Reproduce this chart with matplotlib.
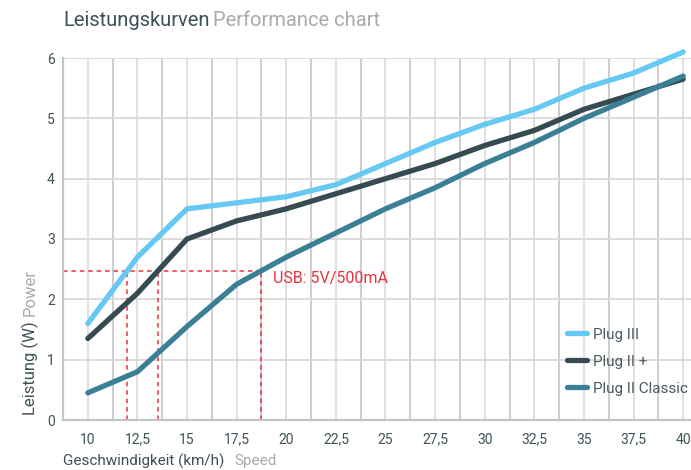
#!/usr/bin/env python3
# -*- coding: utf-8 -*-

import numpy as np
import matplotlib
matplotlib.use('Agg')
import matplotlib.pyplot as plt

plt.rcParams['font.family'] = ['Roboto', 'DejaVu Sans']

# speed in km/h
speed = [10, 12.5, 15, 17.5, 20, 22.5, 25, 27.5, 30, 32.5, 35, 37.5, 40]
# power in W
plug_3 = [1.6, 2.7, 3.5, 3.6, 3.7, 3.9, 4.25, 4.6, 4.9, 5.15, 5.5, 5.75, 6.1]
plug_2plus = [1.35, 2.1, 3.0, 3.3, 3.5, 3.75, 4.0, 4.25, 4.55, 4.8, 5.15, 5.4, 5.65]
plug_2classic = [0.45, 0.8, 1.55, 2.25, 2.7, 3.1, 3.5, 3.85, 4.25, 4.6, 5.0, 5.35, 5.7]
names = ['Plug III', 'Plug II +', 'Plug II Classic']
usb_power = 2.47
usb_label = 'USB: 5V/500mA'
xticks = speed
xticklabels = ['10', '12,5', '15', '17,5', '20', '22,5', '25', '27,5', '30',
               '32,5', '35', '37,5', '40']
yticks = [0, 1, 2, 3, 4, 5, 6]

colors = ['#66c9f4', '#354b51', '#3a7f95']
dark = '#3d5157'
light = '#aaaaaa'

fig = plt.figure(figsize=(6.91, 4.70), dpi=100)
# axes run past the right edge of the picture, like the original
ax = fig.add_axes([63 / 691, 50 / 470, 645 / 691, 362 / 470])
ax.set_xlim(8.75, 41.25)
ax.set_ylim(0, 6)

#grid: labelled speeds lighter, in-between lines darker
for x in np.arange(10, 41.25, 1.25):
    c = '#dddddd' if (x / 2.5) % 1 == 0 else '#c9c9c9'
    ax.axvline(x, color=c, lw=1.3, zorder=0)
for y in yticks[1:]:
    ax.axhline(y, color='#d9d9d9', lw=1.3, zorder=0)

for s in ['top', 'right']:
    ax.spines[s].set_visible(False)
for s in ['left', 'bottom']:
    ax.spines[s].set_color('#c4c4c4')
    ax.spines[s].set_linewidth(1.6)

series = [plug_3, plug_2plus, plug_2classic]
for vals, name, c in zip(series, names, colors):
    ax.plot(speed, vals, color=c, lw=3.8, solid_capstyle='round',
            solid_joinstyle='miter', label=name, zorder=3, clip_on=False)

# usb level and where each curve crosses it
cross = [np.interp(usb_power, vals, speed) for vals in series]
red = '#e8323c'
ax.plot([8.75, max(cross)], [usb_power, usb_power], color=red, lw=1.1,
        ls=(0, (3, 2.5)), zorder=2)
for x in cross:
    ax.plot([x, x], [0, usb_power], color=red, lw=1.1, ls=(0, (3, 2.5)), zorder=2)
ax.text(max(cross) + 0.6, usb_power - 0.13, usb_label, color=red, fontsize=11.5,
        va='center', ha='left')

ax.set_xticks(xticks)
ax.set_xticklabels(xticklabels)
ax.set_yticks(yticks)
ax.tick_params(length=0, colors=dark, labelsize=10, pad=9)
ax.tick_params(axis='y', pad=6)

leg = ax.legend(loc='upper left', bbox_to_anchor=(553 / 691, 1 - 314 / 470),
                bbox_transform=fig.transFigure, frameon=False, fontsize=11,
                handlelength=1.3, handletextpad=0.45, labelspacing=0.85)
for t in leg.get_texts():
    t.set_color('#4a5a60')

fig.text(63 / 691, 1 - 20 / 470, 'Leistungskurven', fontsize=14.5, color=dark,
         va='center', ha='left')
fig.text(213 / 691, 1 - 20 / 470, 'Performance chart', fontsize=14.5, color=light,
         va='center', ha='left')

fig.text(63 / 691, 1 - 461 / 470, 'Geschwindigkeit (km/h)', fontsize=11, color=dark,
         va='center', ha='left')
fig.text(234 / 691, 1 - 461 / 470, 'Speed', fontsize=11, color=light,
         va='center', ha='left')
fig.text(30 / 691, 1 - 415 / 470, 'Leistung (W)', fontsize=12, color=dark,
         rotation=90, va='bottom', ha='center')
fig.text(30 / 691, 1 - 316 / 470, 'Power', fontsize=12, color=light,
         rotation=90, va='bottom', ha='center')

plt.savefig('out.png', dpi=100)
